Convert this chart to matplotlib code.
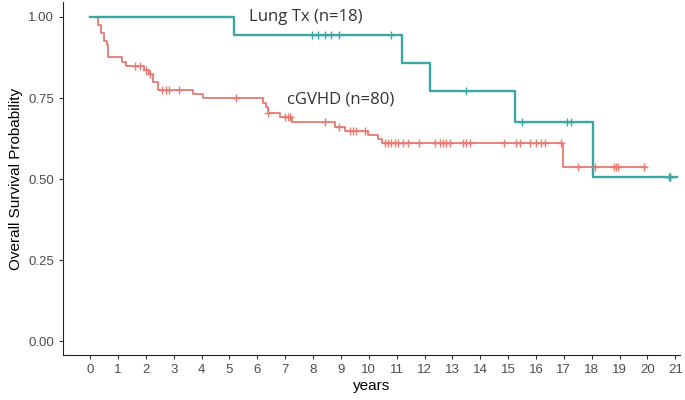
import numpy as np
import matplotlib
matplotlib.use("Agg")
import matplotlib.pyplot as plt

# --- Kaplan-Meier step curves ---
lung_times = [0, 5.16, 11.2, 12.21, 15.26, 18.06]
lung_surv = [1.0, 0.944, 0.858, 0.772, 0.676, 0.507]
lung_end = 21.05
lung_censor = [7.95, 8.18, 8.42, 8.66, 8.94, 10.79, 13.5, 15.5, 17.11, 17.26,
               20.78, 20.8, 20.82]

cgvhd_times = [0, 0.3, 0.4, 0.5, 0.62, 0.66, 1.13, 1.3, 1.95, 2.1, 2.27, 2.45,
               3.7, 4.06, 6.21, 6.3, 6.38, 6.8, 7.23, 8.78, 9.14, 9.98, 10.33,
               10.47, 16.97]
cgvhd_surv = [1.0, 0.975, 0.95, 0.925, 0.912, 0.875, 0.862, 0.85, 0.837, 0.823,
              0.798, 0.774, 0.762, 0.749, 0.735, 0.722, 0.703, 0.69, 0.677,
              0.661, 0.649, 0.637, 0.624, 0.611, 0.537]
cgvhd_end = 19.95
cgvhd_censor = [1.6, 1.8, 2.0, 2.15, 2.57, 2.72, 2.84, 3.2, 5.22, 6.4, 6.99,
                7.09, 7.17, 8.42, 8.94, 9.32, 9.44, 9.56, 9.86, 10.6, 10.69,
                10.81, 10.93, 11.05, 11.23, 11.41, 11.8, 12.37, 12.54, 12.66,
                12.78, 12.9, 13.38, 13.5, 13.62, 14.87, 15.29, 15.41, 15.77,
                16.01, 16.19, 16.31, 16.9, 17.5, 18.1, 18.8, 18.88, 18.96, 19.86]

x_ticks = list(range(0, 22))
y_ticks = [0.0, 0.25, 0.5, 0.75, 1.0]

teal = "#3BA7A5"
red = "#E57B73"


def draw_km(ax, times, surv, end, censor, color, lw):
    xs = list(times) + [end]
    ys = list(surv) + [surv[-1]]
    ax.step(xs, ys, where="post", color=color, lw=lw, zorder=3)
    idx = np.searchsorted(times, censor, side="right") - 1
    cy = np.array(surv)[idx]
    ax.plot(censor, cy, ls="none", marker="+", color=color, ms=6, mew=1.0, zorder=4)


fig = plt.figure(figsize=(6.85, 4.0), dpi=100)
ax = fig.add_axes([0.092, 0.112, 0.9, 0.883])

draw_km(ax, cgvhd_times, cgvhd_surv, cgvhd_end, cgvhd_censor, red, 1.3)
draw_km(ax, lung_times, lung_surv, lung_end, lung_censor, teal, 1.7)

ax.text(5.7, 1.0, "Lung Tx (n=18)", fontsize=12, family="Open Sans",
        color="#333333", va="center", ha="left")
ax.text(7.05, 0.745, "cGVHD (n=80)", fontsize=12, family="Open Sans",
        color="#333333", va="center", ha="left")

ax.set_xlim(-0.97, 21.15)
ax.set_ylim(-0.043, 1.046)
ax.set_xticks(x_ticks)
ax.set_yticks(y_ticks)
ax.set_yticklabels(["0.00", "0.25", "0.50", "0.75", "1.00"])
ax.tick_params(labelsize=9.5, labelcolor="#4D4D4D", length=3, width=0.8,
               color="#333333")
for lab in ax.get_xticklabels() + ax.get_yticklabels():
    lab.set_family("Liberation Sans")
ax.set_xlabel("years", fontsize=11, family="Liberation Sans", labelpad=2)
ax.set_ylabel("Overall Survival Probability", fontsize=11,
              family="Liberation Sans", labelpad=4)
ax.spines["top"].set_visible(False)
ax.spines["right"].set_visible(False)
ax.spines["left"].set_color("#222222")
ax.spines["bottom"].set_color("#222222")

fig.savefig("out.png", dpi=100)
